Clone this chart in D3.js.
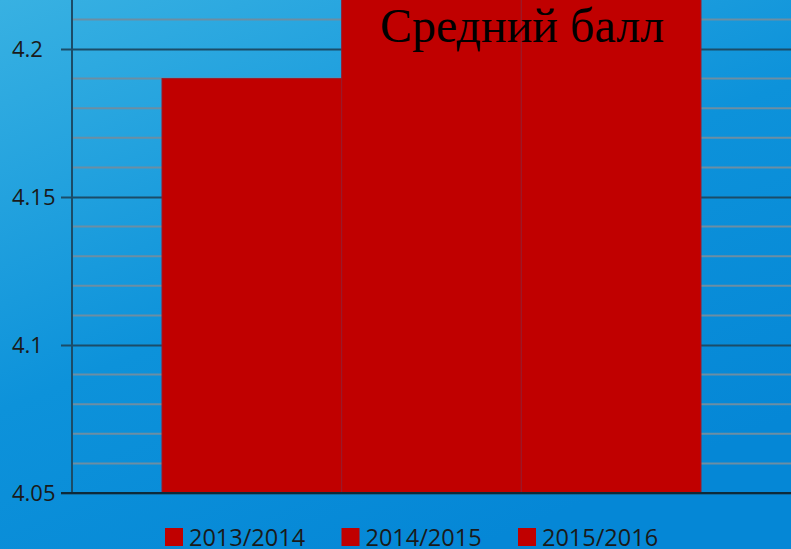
<!DOCTYPE html>
<meta charset="utf-8">
<script src="https://d3js.org/d3.v7.min.js"></script>
<style>
    body{ margin:0; }
    .tick text{ font-family: "Open Sans", sans-serif; }
</style>
<body>
<svg width="791" height="549" class="barChart"></svg>
</body>
<script>
    const title = 'Средний балл';
    const seasons = ['2013/2014', '2014/2015', '2015/2016'];
    const scores = [4.19, 4.24, 4.26];
    const majorTicks = [4.05, 4.1, 4.15, 4.2];
    const minorTicks = [4.06, 4.07, 4.08, 4.09, 4.11, 4.12, 4.13, 4.14, 4.16, 4.17, 4.18, 4.19, 4.21];

    const width = 791, height = 549;
    const plot = { left: 72, right: 791, top: 0, bottom: 493 };

    const svg = d3.select('.barChart');

    const defs = svg.append('defs');
    const grad = defs.append('linearGradient')
        .attr('id', 'bg')
        .attr('x1', '0').attr('y1', '0')
        .attr('x2', '0.6').attr('y2', '1');
    grad.append('stop').attr('offset', '0').attr('stop-color', '#38b1e2');
    grad.append('stop').attr('offset', '0.55').attr('stop-color', '#0d92da');
    grad.append('stop').attr('offset', '1').attr('stop-color', '#0587d6');

    defs.append('clipPath').attr('id', 'plotClip')
        .append('rect')
        .attr('x', 0).attr('y', plot.top)
        .attr('width', width).attr('height', plot.bottom - plot.top);

    svg.append('rect')
        .attr('width', width).attr('height', height)
        .attr('fill', 'url(#bg)');

    const y = d3.scaleLinear()
        .domain([4.05, 4.2])
        .range([plot.bottom, 49]);

    const x0 = d3.scaleBand()
        .domain([title])
        .range([plot.left, plot.right])
        .paddingOuter(0.167);

    const x1 = d3.scaleBand()
        .domain(seasons)
        .range([0, x0.bandwidth()]);

    // minor grid
    svg.append('g')
        .selectAll('line')
        .data(minorTicks)
        .enter()
        .append('line')
        .attr('x1', plot.left).attr('x2', plot.right)
        .attr('y1', d => y(d)).attr('y2', d => y(d))
        .attr('stroke', '#6c8ea3')
        .attr('stroke-width', 2);

    // major grid + y axis (labels are left aligned in the original)
    const yAxis = svg.append('g')
        .attr('transform', 'translate(' + plot.left + ',0)')
        .call(d3.axisLeft(y)
            .tickValues(majorTicks)
            .tickFormat(d3.format('~g'))
            .tickSize(11));
    yAxis.select('.domain').remove();
    yAxis.selectAll('.tick line')
        .attr('x2', plot.right - plot.left)
        .attr('x1', -11)
        .attr('stroke', '#1b4c68')
        .attr('stroke-width', 2);
    yAxis.selectAll('.tick text')
        .attr('x', -60)
        .attr('text-anchor', 'start')
        .attr('font-size', 22)
        .attr('fill', '#1a1a1a');

    // bars
    const barGrp = svg.append('g')
        .attr('clip-path', 'url(#plotClip)');

    barGrp.selectAll('.bar')
        .data(seasons.map((s, i) => ({ season: s, score: scores[i] })))
        .enter()
        .append('rect')
        .attr('class', 'bar')
        .attr('x', d => x0(title) + x1(d.season))
        .attr('y', d => y(d.score))
        .attr('width', x1.bandwidth())
        .attr('height', d => plot.bottom - y(d.score))
        .attr('fill', '#c00000')
        .attr('stroke', '#9a1a2a')
        .attr('stroke-width', 1);

    // axis lines
    svg.append('line')
        .attr('x1', plot.left).attr('x2', plot.left)
        .attr('y1', 0).attr('y2', plot.bottom)
        .attr('stroke', '#1b4c68').attr('stroke-width', 2);
    svg.append('line')
        .attr('x1', plot.left - 11).attr('x2', plot.right)
        .attr('y1', plot.bottom).attr('y2', plot.bottom)
        .attr('stroke', '#0d2a3a').attr('stroke-width', 2);

    // title
    svg.append('text')
        .attr('x', 522).attr('y', 42)
        .attr('text-anchor', 'middle')
        .attr('font-family', '"Liberation Serif", "Times New Roman", serif')
        .attr('font-size', 48)
        .attr('fill', '#000')
        .text(title);

    // legend
    const legend = svg.append('g')
        .selectAll('g')
        .data(seasons)
        .enter()
        .append('g')
        .attr('transform', (d, i) => 'translate(' + (165 + i * 176.5) + ',528)');
    legend.append('rect')
        .attr('width', 18).attr('height', 18)
        .attr('fill', '#c00000');
    legend.append('text')
        .attr('x', 24).attr('y', 17.5)
        .attr('font-family', '"Open Sans", sans-serif')
        .attr('font-size', 23.5)
        .attr('fill', '#1a1a1a')
        .text(d => d);
</script>
